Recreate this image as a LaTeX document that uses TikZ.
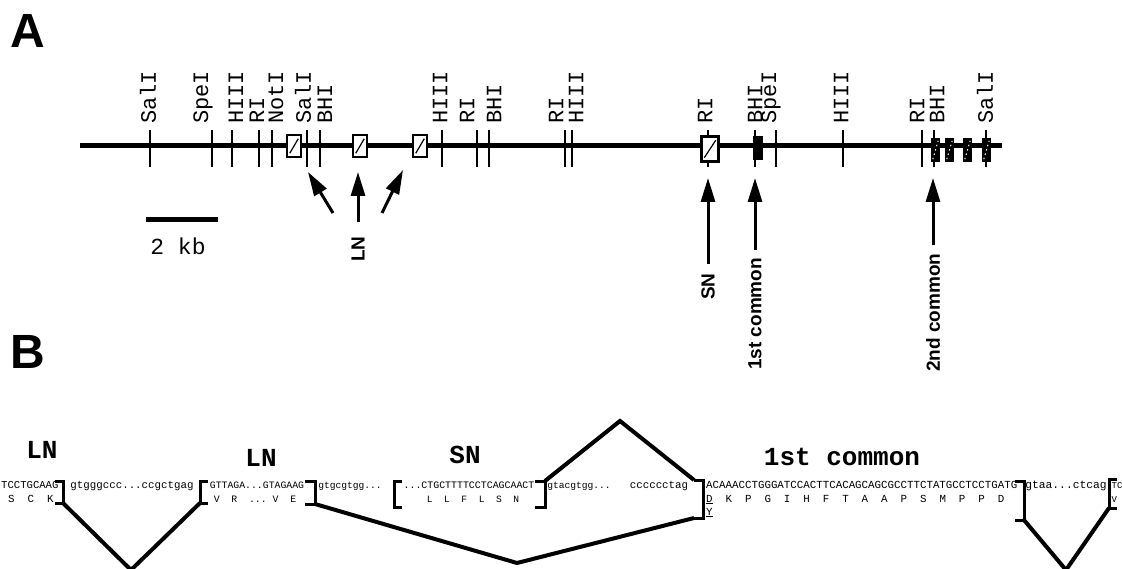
\documentclass[tikz,border=0pt]{standalone}
\usepackage{fontspec}
\setsansfont{Liberation Sans}
\setmonofont{Liberation Mono}
\usetikzlibrary{arrows.meta}

\begin{document}
\begin{tikzpicture}[x=1pt, y=-1pt,
  mapline/.style={line width=5pt},
  sitetick/.style={line width=2pt},
  sitelabel/.style={rotate=90, anchor=west, inner sep=0pt, font=\ttfamily\fontsize{22}{22}\selectfont},
  whitebox/.style={draw=black, line width=2.5pt, fill=white, inner sep=0pt, minimum width=14pt, minimum height=22pt},
  blackbox/.style={fill=black, inner sep=0pt, minimum width=9pt, minimum height=24pt},
  pointer/.style={line width=3pt, -{Triangle[length=24pt, width=14pt]}},
  namelabel/.style={rotate=90, anchor=west, inner sep=0pt, font=\sffamily\bfseries\fontsize{19}{19}\selectfont},
  panel/.style={inner sep=0pt, font=\sffamily\bfseries\fontsize{48}{48}\selectfont},
  seq/.style={inner sep=0pt, anchor=base, font=\ttfamily\fontsize{#1}{11}\selectfont},
  seq/.default=10.8,
  exontitle/.style={inner sep=0pt, font=\ttfamily\bfseries\fontsize{26}{26}\selectfont},
  bracket/.style={line width=3pt},
  splice/.style={line width=4pt, line join=miter},
]
\useasboundingbox (0,0) rectangle (1122,569);
\clip (0,0) rectangle (1122,569);

%%%panel A
\node[panel] (pA) at (28,31) {A};

%%%map line and sites
\coordinate (mapL) at (80,146);
\coordinate (mapR) at (1002,146);
\draw[mapline] (mapL) -- (mapR);
\foreach \x in {150,212,232,259,272,307,320,442,477,489,565,572,708,755,776,843,922,934,986}
  \draw[sitetick] (\x,130) -- (\x,167);
\foreach \x/\t in {148/SalI,203/SpeI,236/HIII,257/RI,276/NotI,303/SalI,325/BHI,
                   440/HIII,467/RI,494/BHI,556/RI,576/HIII,705/RI,755/BHI,771/SpeI,
                   841/HIII,917/RI,937/BHI,985/SalI}
  \node[sitelabel] (site\x) at (\x,124) {\t};

%%%exons
\node[whitebox] (ln1) at (294,146) {};
\node[whitebox] (ln2) at (360,146) {};
\node[whitebox] (ln3) at (420,146) {};
\node[whitebox, minimum width=17pt, minimum height=25pt] (sn) at (710,149) {};
\foreach \b in {ln1,ln2,ln3,sn}
  \draw[line width=1.2pt] ([shift={(4,-5)}]\b.south west) -- ([shift={(-4,5)}]\b.north east);
\node[blackbox, minimum width=10pt] (c1) at (758,148) {};
\foreach \x [count=\i] in {935.5,949.5,967.5,986.5} {
  \node[blackbox] (c2\i) at (\x,150) {};
  \draw[white, line width=1pt, dash pattern=on 1.5pt off 3pt] ([shift={(2,-3)}]c2\i.south west) -- ([shift={(-2,3)}]c2\i.north east);
}

%%%pointers
\coordinate (lnTipA) at (308,172);
\coordinate (lnTipB) at (358,172);
\coordinate (lnTipC) at (403,170);
\coordinate (lnTailA) at (333,213);
\coordinate (lnTailB) at (358,222);
\coordinate (lnTailC) at (382,213);
\draw[pointer] (lnTailA) -- (lnTipA);
\draw[pointer] (lnTailB) -- (lnTipB);
\draw[pointer] (lnTailC) -- (lnTipC);
\node[namelabel] (lnName) at (358,262) {LN};

\node[namelabel] (snName) at (708,300) {SN};
\node[namelabel] (c1Name) at (755,370) {1st common};
\node[namelabel] (c2Name) at (933,372) {2nd common};
\coordinate (snTip) at (708,178);
\coordinate (c1Tip) at (755,178);
\coordinate (c2Tip) at (933,178);
\draw[pointer, shorten <=9pt] (snName.east) -- (snTip);
\draw[pointer, shorten <=8pt] (c1Name.east) -- (c1Tip);
\draw[pointer, shorten <=8pt] (c2Name.east) -- (c2Tip);

%%%scale bar
\draw[line width=5pt] (146,220) -- (218,220);
\node[inner sep=0pt, font=\ttfamily\fontsize{23}{23}\selectfont] (kb) at (178,246) {2 kb};

%%%panel B
\node[panel] (pB) at (28,352) {B};

\node[exontitle] (tLN1) at (42,450) {LN};
\node[exontitle] (tLN2) at (261,458) {LN};
\node[exontitle] (tSN) at (465,455) {SN};
\node[exontitle] (tC1) at (842,457) {1st common};

%%%sequence
\node[seq=10.6, anchor=base west] (s1) at (1,488) {TCCTGCAAG};
\node[seq] (i1) at (132,488) {gtgggccc...ccgctgag};
\node[seq=9.8] (s2) at (257,488) {GTTAGA...GTAGAAG};
\node[seq=9.6] (i2) at (350,488) {gtgcgtgg...};
\node[seq=9.9] (s3) at (469,488) {...CTGCTTTTCCTCAGCAACT};
\node[seq=9.6] (i3) at (579,488) {gtacgtgg...};
\node[seq] (i3b) at (659,488) {cccccctag};
\node[seq=10.8, anchor=base west] (s4) at (706,488) {ACAAACCTGGGATCCACTTCACAGCAGCGCCTTCTATGCCTCCTGATG};
\node[seq=11.3] (i4) at (1066,488) {gtaa...ctcag};
\node[seq=9, anchor=base west] (s5) at (1111.5,488) {TC};

\node[seq, anchor=base west] (a1) at (8,502) {S~~C~~K};
\node[seq=9.8] (a2) at (255,502) {V~~R~~...~V~~E};
\node[seq=9.6] (a3) at (473,502) {L~~L~~F~~L~~S~~N};
\node[seq=10.8, anchor=base west] (a4) at (706,502) {\underline{D}~~K~~P~~G~~I~~H~~F~~T~~A~~A~~P~~S~~M~~P~~P~~D};
\node[seq, anchor=base west] (a4b) at (706,515) {\underline{Y}};
\node[seq=9, anchor=base west] (a5) at (1111.5,502) {V};

%%%brackets
\draw[bracket] (55,481) -- (63,481) -- (63,503) coordinate (r1) -- (55,503);
\draw[bracket] (208,481) -- (200,481) -- (200,503) coordinate (l2) -- (208,503);
\draw[bracket] (305,481) -- (315,481) -- (315,504) coordinate (r2) -- (305,504);
\draw[bracket] (402,481) -- (394,481) -- (394,507) -- (402,507);
\draw[bracket] (535,507) -- (545,507) -- (545,481) coordinate (r3) -- (535,481);
\draw[bracket] (694,480) coordinate (l4t) -- (703,480) -- (703,518) -- (694,518) coordinate (l4b);
\draw[bracket] (1015,481) -- (1024,481) -- (1024,520) coordinate (r4) -- (1015,520);
\draw[bracket] (1117,479) -- (1109,479) -- (1109,508) coordinate (l5) -- (1117,508);

%%%splicing
\coordinate (v1) at (131,570);
\coordinate (v2) at (517,563);
\coordinate (v3) at (620,421);
\coordinate (v4) at (1066,570);
\draw[splice] (r1) -- (v1) -- (l2);
\draw[splice] (r2) -- (v2) -- (l4b);
\draw[splice] (r3) -- (v3) -- (l4t);
\draw[splice] (r4) -- (v4) -- (l5);

\end{tikzpicture}
\end{document}
